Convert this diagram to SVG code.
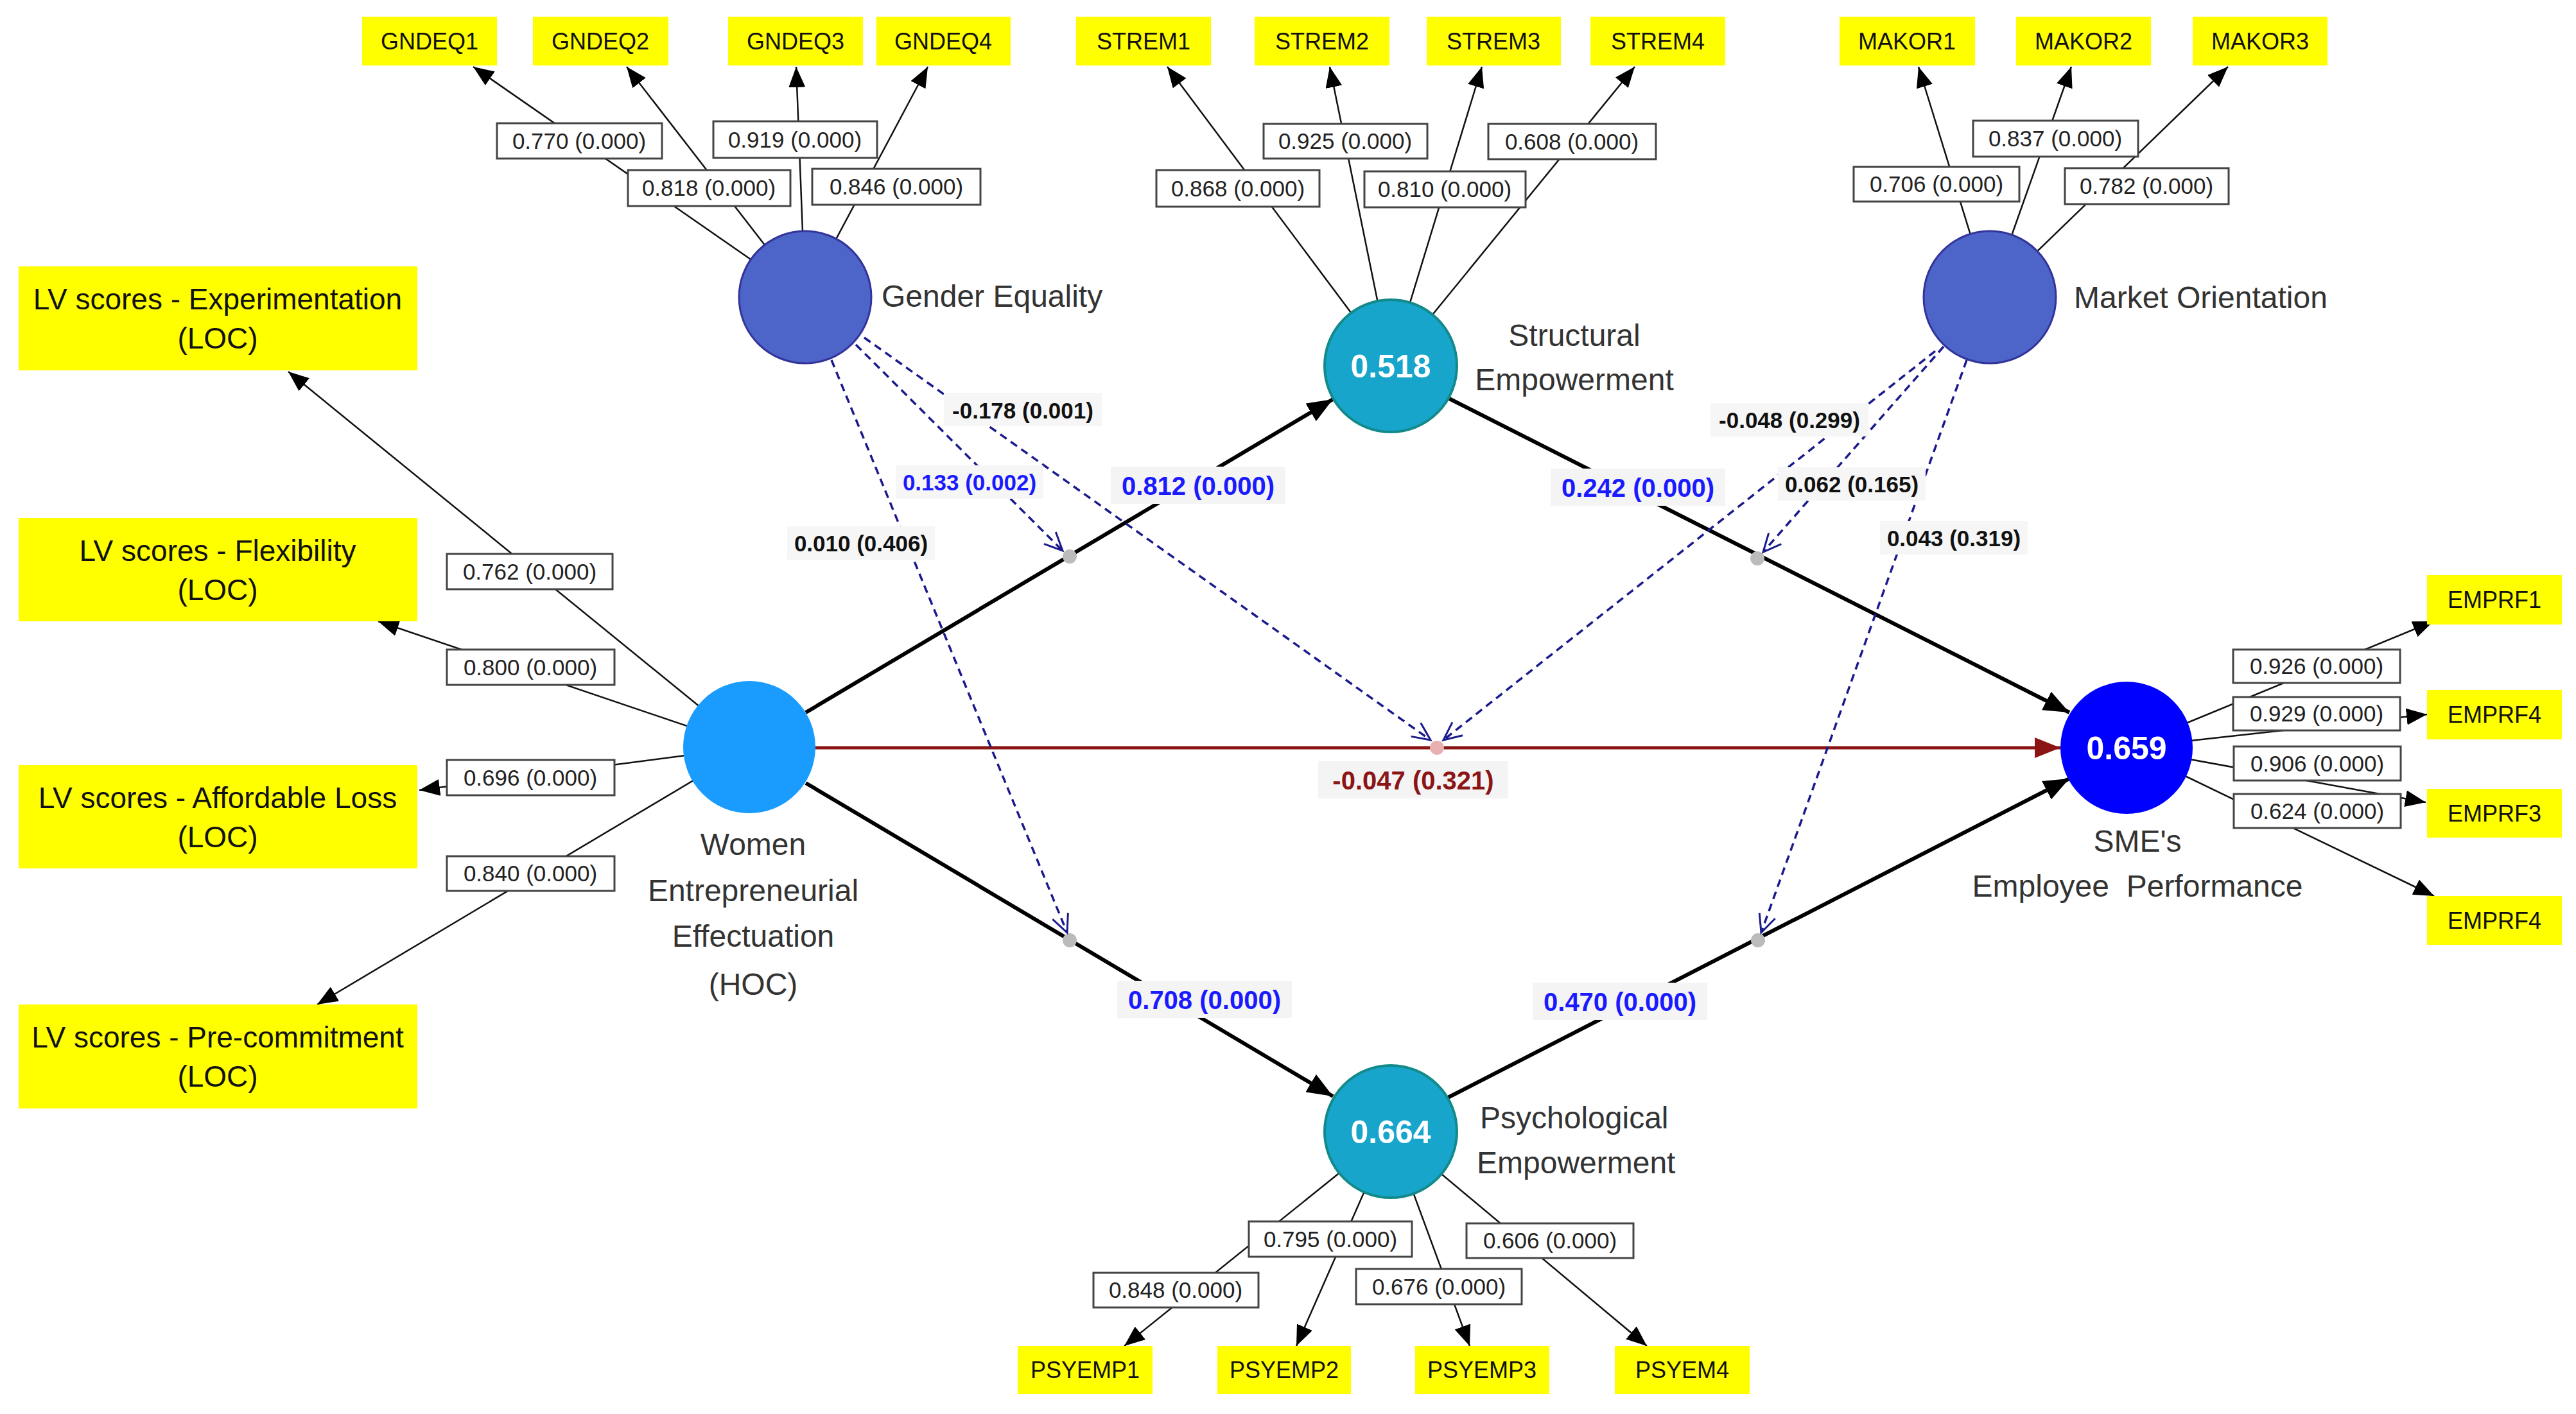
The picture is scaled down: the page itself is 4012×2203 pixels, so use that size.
<svg xmlns="http://www.w3.org/2000/svg" width="4012" height="2203" viewBox="0 0 4012 2203">
<style>
text{font-family:"Liberation Sans",Arial,sans-serif}
.ind rect{fill:#ffff00}
.ind text{font-size:36px;fill:#111;text-anchor:middle}
.loc rect{fill:#ffff00}
.loc text{font-size:46px;fill:#111;text-anchor:middle}
.ld rect{fill:#fff;stroke:#444;stroke-width:3}
.ld text{font-size:35px;fill:#222;text-anchor:middle}
.il{stroke:#111;stroke-width:2.5;fill:none;marker-end:url(#ah)}
.sp{stroke:#000;stroke-width:6;fill:none;marker-end:url(#ahb)}
.md{stroke:#1a1a8c;stroke-width:3.5;fill:none;stroke-dasharray:12 8;marker-end:url(#ao)}
.nl{font-size:48px;fill:#333}
.pl rect{fill:#f4f4f4}
.pl text{font-size:40px;font-weight:bold;text-anchor:middle}
.ml text{font-size:35px;font-weight:bold;text-anchor:middle}
.cv{font-size:50px;font-weight:bold;fill:#fff;text-anchor:middle}
.dot{fill:#bbb}
</style>
<defs>
<marker id="ah" markerUnits="userSpaceOnUse" markerWidth="34" markerHeight="26" refX="32" refY="13" orient="auto"><path d="M0,0 L32,13 L0,26 Z" fill="#000"/></marker>
<marker id="ahb" markerUnits="userSpaceOnUse" markerWidth="42" markerHeight="32" refX="40" refY="16" orient="auto"><path d="M0,0 L40,16 L0,32 Z" fill="#000"/></marker>
<marker id="ahr" markerUnits="userSpaceOnUse" markerWidth="42" markerHeight="32" refX="40" refY="16" orient="auto"><path d="M0,0 L40,16 L0,32 Z" fill="#8b1515"/></marker>
<marker id="ao" markerUnits="userSpaceOnUse" markerWidth="34" markerHeight="30" refX="30" refY="15" orient="auto"><path d="M2,2 L30,15 L2,28" fill="none" stroke="#1a1a8c" stroke-width="3"/></marker>
</defs>
<rect width="4012" height="2203" fill="#fff"/>
<g id="connectors">
<line class="il" x1="1254" y1="463" x2="737" y2="104"/>
<line class="il" x1="1254" y1="463" x2="976" y2="104"/>
<line class="il" x1="1254" y1="463" x2="1240" y2="104"/>
<line class="il" x1="1254" y1="463" x2="1445" y2="104"/>
<line class="il" x1="2166" y1="570" x2="1818" y2="104"/>
<line class="il" x1="2166" y1="570" x2="2071" y2="104"/>
<line class="il" x1="2166" y1="570" x2="2308" y2="104"/>
<line class="il" x1="2166" y1="570" x2="2546" y2="104"/>
<line class="il" x1="3099" y1="463" x2="2988" y2="104"/>
<line class="il" x1="3099" y1="463" x2="3226" y2="104"/>
<line class="il" x1="3099" y1="463" x2="3470" y2="104"/>
<line class="il" x1="3312" y1="1165" x2="3790" y2="968"/>
<line class="il" x1="3312" y1="1165" x2="3780" y2="1113"/>
<line class="il" x1="3312" y1="1165" x2="3778" y2="1250"/>
<line class="il" x1="3312" y1="1165" x2="3791" y2="1396"/>
<line class="il" x1="1167" y1="1164" x2="449" y2="579"/>
<line class="il" x1="1167" y1="1164" x2="589" y2="968"/>
<line class="il" x1="1167" y1="1164" x2="653" y2="1231"/>
<line class="il" x1="1167" y1="1164" x2="494" y2="1565"/>
<line class="il" x1="2166" y1="1763" x2="1751" y2="2097"/>
<line class="il" x1="2166" y1="1763" x2="2019" y2="2097"/>
<line class="il" x1="2166" y1="1763" x2="2289" y2="2097"/>
<line class="il" x1="2166" y1="1763" x2="2565" y2="2097"/>
<line class="sp" x1="1255" y1="1110" x2="2076" y2="622"/>
<line class="sp" x1="1255" y1="1220" x2="2076" y2="1708"/>
<line class="sp" x1="2255" y1="620" x2="3223" y2="1110"/>
<line class="sp" x1="2255" y1="1710" x2="3223" y2="1213"/>
<line x1="1270" y1="1165" x2="3209" y2="1165" stroke="#8b1515" stroke-width="5" marker-end="url(#ahr)"/>
<circle class="dot" cx="1666" cy="867" r="11"/>
<circle class="dot" cx="1666" cy="1465" r="11"/>
<circle class="dot" cx="2737" cy="870" r="11"/>
<circle class="dot" cx="2738" cy="1465" r="11"/>
<circle cx="2238" cy="1165" r="11" fill="#e8b0b0"/>
<line class="md" x1="1333" y1="537" x2="1655" y2="858"/>
<line class="md" x1="1346" y1="526" x2="2228" y2="1153"/>
<line class="md" x1="1295" y1="561" x2="1662" y2="1453"/>
<line class="md" x1="3014" y1="547" x2="2248" y2="1153"/>
<line class="md" x1="3027" y1="540" x2="2746" y2="860"/>
<line class="md" x1="3063" y1="561" x2="2743" y2="1453"/>
<g class="ld">
<rect x="774" y="192" width="257" height="55"/><text x="902" y="232">0.770 (0.000)</text>
<rect x="978" y="265" width="253" height="56"/><text x="1104" y="305">0.818 (0.000)</text>
<rect x="1111" y="189" width="255" height="57"/><text x="1238" y="230">0.919 (0.000)</text>
<rect x="1265" y="263" width="262" height="56"/><text x="1396" y="303">0.846 (0.000)</text>
<rect x="1801" y="265" width="254" height="57"/><text x="1928" y="306">0.868 (0.000)</text>
<rect x="1968" y="193" width="255" height="54"/><text x="2095" y="232">0.925 (0.000)</text>
<rect x="2125" y="267" width="251" height="56"/><text x="2250" y="307">0.810 (0.000)</text>
<rect x="2318" y="193" width="261" height="55"/><text x="2448" y="233">0.608 (0.000)</text>
<rect x="2887" y="260" width="258" height="54"/><text x="3016" y="299">0.706 (0.000)</text>
<rect x="3073" y="188" width="257" height="56"/><text x="3201" y="228">0.837 (0.000)</text>
<rect x="3216" y="262" width="255" height="56"/><text x="3343" y="302">0.782 (0.000)</text>
<rect x="3478" y="1012" width="260" height="52"/><text x="3608" y="1050">0.926 (0.000)</text>
<rect x="3478" y="1086" width="260" height="52"/><text x="3608" y="1124">0.929 (0.000)</text>
<rect x="3479" y="1163" width="260" height="53"/><text x="3609" y="1202">0.906 (0.000)</text>
<rect x="3479" y="1237" width="260" height="53"/><text x="3609" y="1276">0.624 (0.000)</text>
<rect x="696" y="863" width="258" height="55"/><text x="825" y="903">0.762 (0.000)</text>
<rect x="696" y="1012" width="261" height="55"/><text x="826" y="1052">0.800 (0.000)</text>
<rect x="696" y="1184" width="261" height="55"/><text x="826" y="1224">0.696 (0.000)</text>
<rect x="696" y="1334" width="261" height="54"/><text x="826" y="1373">0.840 (0.000)</text>
<rect x="1703" y="1983" width="257" height="54"/><text x="1831" y="2022">0.848 (0.000)</text>
<rect x="1945" y="1903" width="254" height="55"/><text x="2072" y="1943">0.795 (0.000)</text>
<rect x="2112" y="1977" width="258" height="55"/><text x="2241" y="2017">0.676 (0.000)</text>
<rect x="2284" y="1906" width="260" height="54"/><text x="2414" y="1945">0.606 (0.000)</text>
</g>
<g class="pl">
<rect x="1730" y="727" width="272" height="58"/><text x="1866" y="771" fill="#1a1aff">0.812 (0.000)</text>
<rect x="2415" y="730" width="272" height="58"/><text x="2551" y="774" fill="#1a1aff">0.242 (0.000)</text>
<rect x="1740" y="1528" width="272" height="58"/><text x="1876" y="1572" fill="#1a1aff">0.708 (0.000)</text>
<rect x="2387" y="1531" width="272" height="58"/><text x="2523" y="1575" fill="#1a1aff">0.470 (0.000)</text>
<rect x="2053" y="1186" width="296" height="58"/><text x="2201" y="1230" fill="#8b1515">-0.047 (0.321)</text>
</g>
<g class="ml">
<rect x="1470" y="612" width="246" height="52" fill="#f6f6f6"/><text x="1593" y="652" fill="#111">-0.178 (0.001)</text>
<rect x="1395" y="725" width="230" height="52" fill="#f6f6f6"/><text x="1510" y="764" fill="#1a1aff">0.133 (0.002)</text>
<rect x="1226" y="820" width="230" height="52" fill="#f6f6f6"/><text x="1341" y="859" fill="#111">0.010 (0.406)</text>
<rect x="2664" y="628" width="246" height="52" fill="#f6f6f6"/><text x="2787" y="667" fill="#111">-0.048 (0.299)</text>
<rect x="2769" y="728" width="230" height="52" fill="#f6f6f6"/><text x="2884" y="767" fill="#111">0.062 (0.165)</text>
<rect x="2928" y="812" width="230" height="52" fill="#f6f6f6"/><text x="3043" y="851" fill="#111">0.043 (0.319)</text>
</g>
</g>
<g id="ind" class="ind">
<rect x="564" y="26" width="210" height="76"/><text x="669" y="77">GNDEQ1</text>
<rect x="830" y="26" width="211" height="76"/><text x="935" y="77">GNDEQ2</text>
<rect x="1134" y="26" width="210" height="76"/><text x="1239" y="77">GNDEQ3</text>
<rect x="1365" y="26" width="209" height="76"/><text x="1469" y="77">GNDEQ4</text>
<rect x="1676" y="26" width="210" height="76"/><text x="1781" y="77">STREM1</text>
<rect x="1954" y="26" width="210" height="76"/><text x="2059" y="77">STREM2</text>
<rect x="2222" y="26" width="209" height="76"/><text x="2326" y="77">STREM3</text>
<rect x="2477" y="26" width="210" height="76"/><text x="2582" y="77">STREM4</text>
<rect x="2865" y="26" width="211" height="76"/><text x="2970" y="77">MAKOR1</text>
<rect x="3140" y="26" width="210" height="76"/><text x="3245" y="77">MAKOR2</text>
<rect x="3415" y="26" width="210" height="76"/><text x="3520" y="77">MAKOR3</text>
<rect x="3780" y="896" width="210" height="77"/><text x="3885" y="947">EMPRF1</text>
<rect x="3780" y="1075" width="210" height="77"/><text x="3885" y="1126">EMPRF4</text>
<rect x="3780" y="1229" width="210" height="76"/><text x="3885" y="1280">EMPRF3</text>
<rect x="3780" y="1396" width="210" height="76"/><text x="3885" y="1447">EMPRF4</text>
<rect x="1585" y="2097" width="210" height="75"/><text x="1690" y="2147">PSYEMP1</text>
<rect x="1896" y="2097" width="208" height="75"/><text x="2000" y="2147">PSYEMP2</text>
<rect x="2204" y="2097" width="209" height="75"/><text x="2308" y="2147">PSYEMP3</text>
<rect x="2515" y="2097" width="210" height="75"/><text x="2620" y="2147">PSYEM4</text>
</g>
<g id="loc" class="loc">
<rect x="29" y="415" width="621" height="162"/><text x="339" y="482">LV scores - Experimentation</text><text x="339" y="543">(LOC)</text>
<rect x="29" y="807" width="621" height="161"/><text x="339" y="874">LV scores - Flexibility</text><text x="339" y="935">(LOC)</text>
<rect x="29" y="1192" width="621" height="161"/><text x="339" y="1259">LV scores - Affordable Loss</text><text x="339" y="1320">(LOC)</text>
<rect x="29" y="1565" width="621" height="162"/><text x="339" y="1632">LV scores - Pre-commitment</text><text x="339" y="1693">(LOC)</text>
</g>
<g id="gender-equality">
<circle cx="1254" cy="463" r="103" fill="#4d65c8" stroke="#33339a" stroke-width="3"/>
<text class="nl" x="1373" y="478">Gender Equality</text>
</g>
<g id="structural-empowerment">
<circle cx="2166" cy="570" r="103" fill="#17a5cc" stroke="#138a8a" stroke-width="4"/>
<text class="cv" x="2166" y="588">0.518</text>
<text class="nl" x="2452" y="539" text-anchor="middle">Structural</text>
<text class="nl" x="2452" y="608" text-anchor="middle">Empowerment</text>
</g>
<g id="market-orientation">
<circle cx="3099" cy="463" r="103" fill="#4d65c8" stroke="#33339a" stroke-width="3"/>
<text class="nl" x="3230" y="480">Market Orientation</text>
</g>
<g id="women-effectuation">
<circle cx="1167" cy="1164" r="103" fill="#1a9cff"/>
<g class="nl" text-anchor="middle">
<text class="nl" x="1173" y="1332">Women</text>
<text class="nl" x="1173" y="1404">Entrepreneurial</text>
<text class="nl" x="1173" y="1475">Effectuation</text>
<text class="nl" x="1173" y="1550">(HOC)</text>
</g>
</g>
<g id="sme-performance">
<circle cx="3312" cy="1165" r="103" fill="#0000ff"/>
<text class="cv" x="3312" y="1183">0.659</text>
<text class="nl" x="3329" y="1327" text-anchor="middle">SME's</text>
<text class="nl" x="3329" y="1397" text-anchor="middle" xml:space="preserve">Employee  Performance</text>
</g>
<g id="psychological-empowerment">
<circle cx="2166" cy="1763" r="103" fill="#17a5cc" stroke="#138a8a" stroke-width="4"/>
<text class="cv" x="2166" y="1781">0.664</text>
<text class="nl" x="2305" y="1758">Psychological</text>
<text class="nl" x="2300" y="1828">Empowerment</text>
</g>
</svg>
